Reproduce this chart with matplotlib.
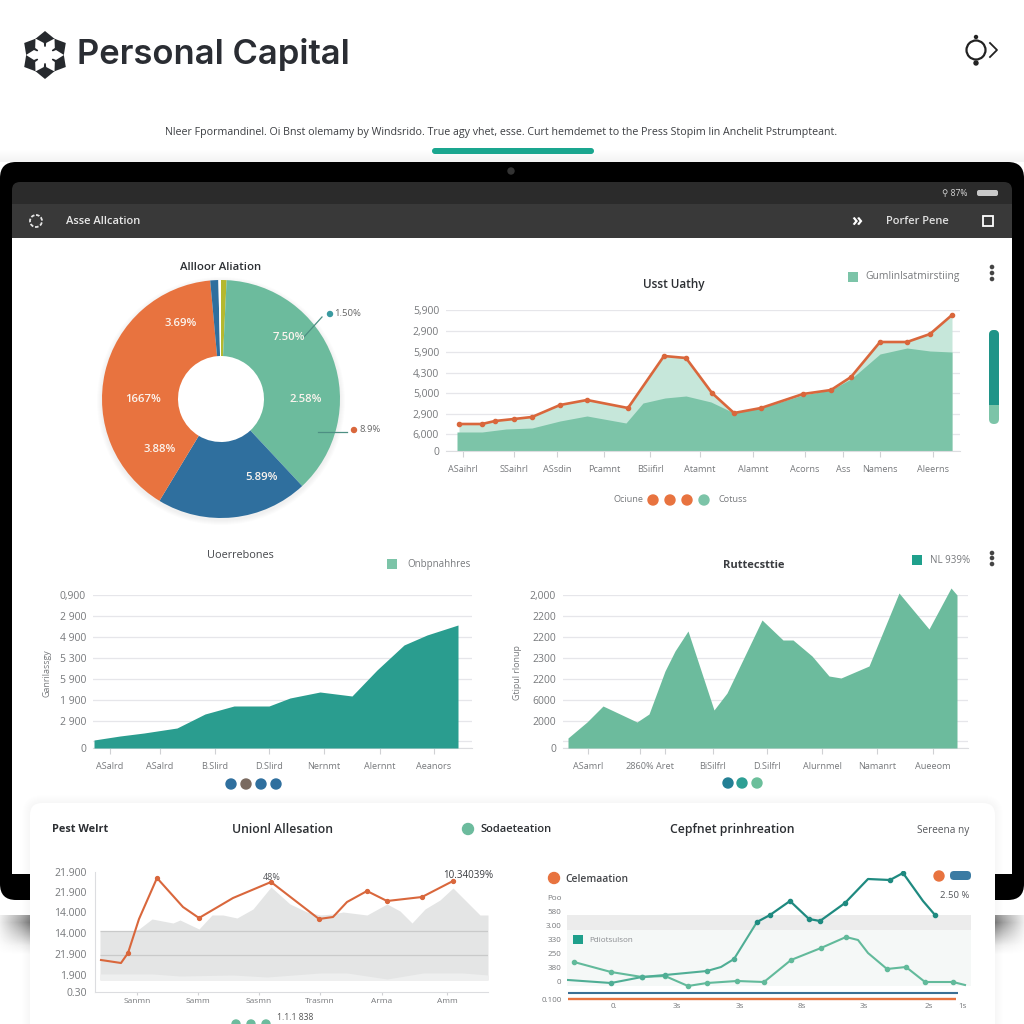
"""Personal Capital style dashboard mockup, rebuilt with matplotlib."""

import matplotlib

matplotlib.use("Agg")
import matplotlib.pyplot as plt
import numpy as np
from matplotlib.patches import Circle, FancyBboxPatch, Polygon, Rectangle

plt.rcParams["font.family"] = ["Open Sans", "DejaVu Sans"]

SIZE = 1024

# colours
GREEN = "#6cbb9d"
GREEN_DARK = "#7cc4a8"
GREEN_LIGHT = "#c6e7da"
TEAL = "#2a9d8f"
TEAL_DARK = "#1f8a80"
BLUE = "#2f6f9e"
ORANGE = "#e8733f"
LINE_ORANGE = "#d9673c"
GRID = "#e6e6ea"
TICK_TEXT = "#77797c"
DARK_TEXT = "#2c2f33"

# donut
PIE_VALUES = [0.75, 37.3, 20.6, 39.9, 1.1, 0.35]
PIE_COLORS = ["#b5b82e", GREEN, BLUE, ORANGE, BLUE, "#ffffff"]

# top right chart
USAGE_LINE_X = [13, 36, 49, 68, 86, 114, 141, 182, 218, 240, 266, 288, 315, 357, 385, 405, 434, 461, 484, 506]
USAGE_LINE_Y = [27, 27, 30, 32, 34, 46, 51, 43, 95, 93, 58, 38, 43, 57, 61, 74, 109, 109, 117, 136]
USAGE_AREA_X = [11, 36, 60, 86, 114, 141, 180, 197, 219, 240, 265, 288, 315, 357, 385, 405, 434, 461, 484, 506]
USAGE_AREA_Y = [19, 19, 22, 23, 30, 35, 28, 48, 53, 55, 49, 38, 43, 56, 61, 72, 97, 103, 100, 99]
USAGE_YTICKS = [0, 17, 37, 58, 78, 99, 120, 141]
USAGE_YLABELS = ["0", "6,000", "2,900", "5,000", "4,300", "5,900", "2,900", "5,900"]
USAGE_XTICKS = [17, 68, 111, 158, 204, 254, 307, 359, 397, 434, 487]
USAGE_XLABELS = ["ASaihrl", "SSaihrl", "ASsdin", "Pcamnt", "BSiifirl", "Atamnt", "Alamnt", "Acorns", "Ass", "Namens", "Aleerns"]

# middle left chart
USERS_X = [1, 27, 51, 84, 112, 141, 176, 197, 227, 259, 284, 311, 334, 365]
USERS_Y = [8, 12, 15, 20, 34, 42, 42, 50, 56, 52, 78, 103, 113, 123]
USERS_XTICKS = [17, 67, 122, 176, 231, 287, 341]
USERS_XLABELS = ["ASalrd", "ASalrd", "B.Slird", "D.Slird", "Nernmt", "Alernnt", "Aeanors"]
USERS_YTICKS = [0, 7, 27, 48, 69, 90, 111, 132, 153]
USERS_YLABELS = ["0", "", "2 900", "1 900", "5 900", "5 300", "4 900", "2 900", "0,900"]

# middle right chart
RATE_X = [5, 24, 40, 74, 86, 102, 112, 125, 151, 164, 199, 220, 230, 249, 266, 278, 306, 336, 366, 388, 394]
RATE_Y = [10, 26, 42, 26, 34, 77, 97, 117, 38, 55, 128, 108, 108, 92, 72, 70, 82, 155, 119, 160, 153]
RATE_XTICKS = [25, 77, 102, 150, 204, 259, 314, 370]
RATE_XLABELS = ["ASamrl", "2860%", "Aret", "BiSilfrl", "D.Silfrl", "Alurnmel", "Namanrt", "Aueeom"]
RATE_YLABELS = ["0", "", "2000", "6000", "2200", "2300", "2200", "2200", "2,000"]

# bottom left chart
UNION_LINE_X = [6, 26, 33, 44, 62, 88, 104, 138, 176, 224, 238, 252, 272, 292, 327, 358]
UNION_LINE_Y = [32, 29, 39, 73, 114, 85, 74, 94, 110, 73, 75, 90, 101, 91, 95, 111]
UNION_AREA_X = [5, 38, 44, 57, 78, 85, 104, 117, 128, 142, 158, 176, 195, 212, 225, 238, 248, 272, 292, 305, 317, 330, 345, 358, 385, 393]
UNION_AREA_Y = [61, 61, 63, 73, 69, 72, 63, 77, 77, 74, 83, 105, 88, 80, 77, 78, 80, 77, 88, 81, 69, 83, 92, 104, 77, 77]
UNION_BAND_X = [5, 58, 85, 138, 172, 225, 252, 292, 328, 368, 393]
UNION_BAND_Y = [18, 18, 16, 17, 15, 19, 19, 13, 19, 19, 17]
UNION_YTICKS = [0, 17, 38, 59, 80, 100, 120]
UNION_YLABELS = ["0.30", "1.900", "21.900", "14.000", "14.000", "21.900", "21.900"]
UNION_XTICKS = [42, 103, 164, 225, 287, 352]
UNION_XLABELS = ["Sanmn", "Samm", "Sasmn", "Trasmn", "Arma", "Amm"]

# bottom right chart
PREP_A_X = [7, 44, 75, 98, 121, 140, 170, 197, 224, 254, 279, 291, 301, 320, 339, 358, 386, 398]
PREP_A_Y = [41, 31, 26, 27, 17, 20, 22, 21, 43, 55, 66, 63, 50, 34, 36, 21, 21, 18]
PREP_B_X = [1, 44, 75, 98, 140, 154, 167, 190]
PREP_B_Y = [23, 20, 26, 28, 32, 36, 44, 81]
PREP_C_X = [190, 203, 223, 242, 253, 278, 301, 323, 336, 356, 368]
PREP_C_Y = [81, 88, 102, 84, 82, 100, 124, 123, 130, 102, 88]
PREP_YTICKS = [4, 21, 36, 49, 63, 77, 91, 106]
PREP_YLABELS = ["0.100", "0", "380", "250", "330", "3.00", "580", "Poo"]
PREP_XTICKS = [47, 110, 173, 235, 297, 362, 396]
PREP_XLABELS = ["0.", "3s", "3s", "8s", "3s", "2s", "1s"]


def px_axes(fig, left, top, right, bottom, zorder=2):
    """Add a transparent axes given its box in image pixels."""
    ax = fig.add_axes(
        [left / SIZE, 1 - bottom / SIZE, (right - left) / SIZE, (bottom - top) / SIZE],
        zorder=zorder,
    )
    ax.patch.set_alpha(0)
    return ax


def rounded(ax, x, y, w, h, radius, color, **kwargs):
    patch = FancyBboxPatch(
        (x, y), w, h,
        boxstyle=f"round,pad=0,rounding_size={radius}",
        facecolor=color, edgecolor="none", **kwargs,
    )
    ax.add_patch(patch)
    return patch


def style_chart(ax, xticks, xlabels, yticks, ylabels, grid=True):
    for name in ("top", "right", "left"):
        ax.spines[name].set_visible(False)
    ax.spines["bottom"].set_color("#dcdde0")
    ax.set_xticks(xticks, xlabels)
    ax.set_yticks(yticks, ylabels)
    ax.tick_params(axis="x", length=4, width=0.8, color="#d0d1d4", labelsize=6.6,
                   labelcolor=TICK_TEXT, pad=6)
    ax.tick_params(axis="y", length=0, labelsize=7.5, labelcolor=TICK_TEXT, pad=5)
    if grid:
        ax.yaxis.grid(True, color=GRID, linewidth=0.9)
    ax.set_axisbelow(True)


def draw_background(ax):
    ax.set_xlim(0, SIZE)
    ax.set_ylim(SIZE, 0)
    ax.axis("off")

    # shadow under the tablet, darkest next to the card and fading outwards
    fade_y = np.interp(np.arange(915, 955), [915, 922, 945, 954], [0.85, 1, 0.15, 0])
    fade_x = np.interp(np.arange(SIZE), [0, 30, 995, 1023], [0.15, 1, 1, 0.15])
    shadow = 1 - 0.5 * np.outer(fade_y, fade_x)
    ax.imshow(shadow, cmap="gray", vmin=0, vmax=1, aspect="auto",
              extent=(0, SIZE, 955, 915), zorder=0)
    top_shade = np.interp(np.arange(0, 14), [0, 13], [1, .95])
    ax.imshow(top_shade[:, None], cmap="gray", vmin=0, vmax=1, aspect="auto",
              extent=(0, SIZE, 162, 148), zorder=0)

    # tablet frame and screen
    rounded(ax, 0, 162, 1024, 738, 16, "#000000", zorder=1)
    ax.add_patch(Circle((511, 171), 3, color="#333333", zorder=2))
    rounded(ax, 12, 182, 1000, 60, 8, "#2b2b2b", zorder=2)
    ax.add_patch(Rectangle((12, 204), 1000, 34, facecolor="#393939", linewidth=0, zorder=2))
    ax.add_patch(Rectangle((12, 238), 1000, 636, facecolor="#ffffff", linewidth=0, zorder=2))

    # card at the bottom with a faint layered shadow
    for grow in range(8, 0, -1):
        rounded(ax, 30 - grow, 803 - grow, 965 + 2 * grow, 260, 12 + grow, "#000000",
                alpha=0.005, zorder=3)
    rounded(ax, 30, 803, 965, 260, 12, "#ffffff", zorder=3)

    # soft shadow under the donut, hole stays white
    for grow in range(5, 0, -1):
        ax.add_patch(Circle((221, 401), 119 + grow, facecolor="#000000", linewidth=0,
                            alpha=0.012, zorder=3))
    ax.add_patch(Circle((221, 399), 60, facecolor="#ffffff", linewidth=0, zorder=3))

    ax.set_xlim(0, SIZE)
    ax.set_ylim(SIZE, 0)


def draw_header(ax):
    # logo: six dark blobs cut by a white flower
    cx, cy = 45, 55
    centre = np.array([cx, cy])
    for angle in np.radians([90, 30, -30, -90, -150, 150]):
        u = np.array([np.cos(angle), -np.sin(angle)])
        v = np.array([-u[1], u[0]])
        pts = [centre + u * 8, centre + u * 15 + v * 11, centre + u * 24, centre + u * 15 - v * 11]
        ax.add_patch(Polygon(pts, closed=True, facecolor="#26292d", linewidth=0))
    for angle in np.radians([0, 60, 120, 180, 240, 300]):
        u = np.array([np.cos(angle), -np.sin(angle)])
        v = np.array([-u[1], u[0]])
        pts = [centre, centre + u * 11 + v * 5, centre + u * 19, centre + u * 11 - v * 5]
        ax.add_patch(Polygon(pts, closed=True, facecolor="#ffffff", linewidth=0))
    ax.add_patch(Circle((cx, cy), 7, facecolor="#ffffff", linewidth=0))

    ax.text(77, 54.5, "Personal Capital", fontsize=24.9, fontweight="semibold", family="Inter",
            color="#2a2d33", va="center", ha="left")

    # top right icon
    ax.add_patch(Circle((976, 50), 9.5, fill=False, edgecolor="#222222", linewidth=1.6))
    ax.add_patch(Circle((976, 37), 1.5, color="#222222"))
    ax.add_patch(Circle((976, 63), 2, color="#222222"))
    ax.plot([990, 997, 990], [43, 50, 57], color="#222222", linewidth=1.3)

    ax.text(501, 132.5,
            "Nleer Fpormandinel. Oi Bnst olemamy by Windsrido. True agy vhet, esse. "
            "Curt hemdemet to the Press Stopim lin Anchelit Pstrumpteant.",
            fontsize=7.65, color="#3c3e42", ha="center", va="center")
    rounded(ax, 432, 148, 162, 6, 3, "#1aa68f")

    # screen status bar and nav bar
    ax.text(955, 193.5, "⚲ 87%", fontsize=6.2, color="#d8d8d8", ha="center", va="center")
    rounded(ax, 977, 190, 21, 6, 2, "#c8c8c8")
    ax.add_patch(Circle((36, 221), 6, fill=False, edgecolor="#e5e5e5", linewidth=1.3, linestyle=(0, (2, 1))))
    ax.text(66, 222, "Asse Allcation", fontsize=8, fontweight="semibold", color="#e8e8e8", va="center")
    ax.text(857, 221, "»", fontsize=13, fontweight="bold", color="#ffffff", ha="center", va="center")
    ax.text(886, 222, "Porfer Pene", fontsize=8, fontweight="semibold", color="#e0e0e0", va="center")
    ax.add_patch(Rectangle((983, 216), 10, 10, fill=False, edgecolor="#ffffff", linewidth=1.3))


def draw_pie(fig):
    ax = px_axes(fig, 102, 280, 340, 518)
    ax.pie(PIE_VALUES, colors=PIE_COLORS, startangle=90, counterclock=False, radius=1,
           wedgeprops={"width": 1 - 43 / 119, "linewidth": 0})
    ax.set_xlim(-1, 1)
    ax.set_ylim(-1, 1)


def draw_pie_text(ax):
    ax.text(221, 267, "Allloor Aliation", fontsize=8.2, fontweight="semibold", color=DARK_TEXT,
            ha="center", va="center")
    labels = [("7.50%", 289, 338), ("2.58%", 306, 400), ("5.89%", 262, 478),
              ("3.88%", 160, 449), ("1667%", 143, 400), ("3.69%", 181, 324)]
    for text, x, y in labels:
        ax.text(x, y, text, color="#fbf4ee", fontsize=8.2, fontweight="semibold", ha="center", va="center")
    ax.plot([322, 303], [317, 338], color="#4d8f83", linewidth=0.9)
    ax.add_patch(Circle((330, 314), 2.5, color="#3a9aa0"))
    ax.text(334, 314, "1.50%", fontsize=6.8, color="#666666", va="center")
    ax.plot([318, 347], [432, 432], color="#4d8f83", linewidth=0.9)
    ax.add_patch(Circle((354, 430), 2.5, color=LINE_ORANGE))
    ax.text(359, 430, "8.9%", fontsize=6.8, color="#666666", va="center")


def draw_usage(fig):
    ax = px_axes(fig, 446, 310, 960, 451)
    ax.fill_between(USAGE_LINE_X, USAGE_LINE_Y, color=GREEN_LIGHT, linewidth=0)
    ax.fill_between(USAGE_AREA_X, USAGE_AREA_Y, color=GREEN_DARK, linewidth=0)
    ax.plot(USAGE_LINE_X, USAGE_LINE_Y, color=LINE_ORANGE, linewidth=1.9, marker="o", markersize=3)
    ax.set_xlim(0, 514)
    ax.set_ylim(0, 141)
    style_chart(ax, USAGE_XTICKS, USAGE_XLABELS, USAGE_YTICKS, USAGE_YLABELS)


def draw_usage_text(ax):
    ax.text(674, 284.5, "Usst Uathy", fontsize=8.5, fontweight="semibold", color=DARK_TEXT,
            ha="center", va="center")
    ax.add_patch(Rectangle((848, 272), 10, 10, facecolor=GREEN_DARK, linewidth=0))
    ax.text(865, 277, "Gumlinlsatmirstiing", fontsize=7.4, color=TICK_TEXT, va="center")
    for y in (267, 273, 279):
        ax.add_patch(Circle((992, y), 1.6, color="#444444"))
    rounded(ax, 989, 330, 10, 94, 5, GREEN_DARK)
    rounded(ax, 989, 330, 10, 60, 5, "#1f9488")
    ax.add_patch(Rectangle((989, 385), 10, 20, facecolor="#1f9488", linewidth=0))
    ax.text(628, 500, "Ociune", fontsize=6.6, color=TICK_TEXT, ha="center", va="center")
    for x, color in zip((653, 670, 687, 704), (ORANGE, ORANGE, ORANGE, GREEN_DARK)):
        ax.add_patch(Circle((x, 500), 5, color=color))
    ax.text(733, 500, "Cotuss", fontsize=6.6, color=TICK_TEXT, ha="center", va="center")


def draw_users(fig):
    ax = px_axes(fig, 93, 595, 472, 748)
    ax.fill_between(USERS_X, USERS_Y, color=TEAL, linewidth=0, zorder=3)
    ax.set_xlim(0, 379)
    ax.set_ylim(0, 153)
    style_chart(ax, USERS_XTICKS, USERS_XLABELS, USERS_YTICKS, USERS_YLABELS)


def draw_rate(fig):
    ax = px_axes(fig, 563, 595, 968, 748)
    ax.fill_between(RATE_X, RATE_Y, color=GREEN, linewidth=0, zorder=3, clip_on=False)
    ax.set_xlim(0, 405)
    ax.set_ylim(0, 153)
    style_chart(ax, RATE_XTICKS, RATE_XLABELS, USERS_YTICKS, RATE_YLABELS)


def draw_middle_text(ax):
    ax.text(240, 555.5, "Uoerrebones", fontsize=7.8, fontweight="medium", color="#45474b",
            ha="center", va="center")
    ax.add_patch(Rectangle((387, 559), 10, 10, facecolor=GREEN_DARK, linewidth=0))
    ax.text(407, 564.5, "Onbpnahhres", fontsize=7, color=TICK_TEXT, va="center")
    ax.text(47, 673, "Ganrilassgy", fontsize=6.4, color=TICK_TEXT, rotation=90, ha="center", va="center")
    for x, color in zip((231, 246, 261, 276), (BLUE, "#7a6a60", BLUE, BLUE)):
        ax.add_patch(Circle((x, 784), 5, color=color))

    ax.text(754, 566, "Ruttecsttie", fontsize=8, fontweight="bold", color="#3a3c40", ha="center", va="center")
    ax.add_patch(Rectangle((912, 555), 10, 10, facecolor="#1fa08c", linewidth=0))
    ax.text(930, 560.5, "NL 939%", fontsize=7, color=TICK_TEXT, va="center")
    for y in (553, 558, 564):
        ax.add_patch(Circle((992, y), 1.6, color="#444444"))
    ax.text(517, 673, "Gtipul rlonup", fontsize=6.4, color=TICK_TEXT, rotation=90, ha="center", va="center")
    for x, color in zip((728, 742, 757), ("#237f94", "#2d9f94", "#6bbf9b")):
        ax.add_patch(Circle((x, 783), 5, color=color))


def draw_union(fig):
    ax = px_axes(fig, 95, 872, 488, 992)
    ax.fill_between(UNION_AREA_X, UNION_AREA_Y, 12, color="#e4e5e5", linewidth=0)
    ax.fill_between(UNION_BAND_X, UNION_BAND_Y, 12, color="#eeefef", linewidth=0)
    ax.hlines([37, 61], 5, 393, color="#c9caca", linewidth=0.9)
    ax.plot(UNION_LINE_X, UNION_LINE_Y, color=LINE_ORANGE, linewidth=1.5, marker="o", markersize=2.8,
            markevery=[2, 4, 6, 8, 9, 12, 13, 14, 15])
    ax.set_xlim(0, 393)
    ax.set_ylim(0, 120)
    style_chart(ax, UNION_XTICKS, UNION_XLABELS, UNION_YTICKS, UNION_YLABELS, grid=False)
    ax.spines["left"].set_visible(True)
    ax.spines["left"].set_color("#dcdde0")
    ax.tick_params(axis="x", labelsize=6, pad=2, length=2)
    ax.tick_params(axis="y", labelsize=7.5, pad=6)


def draw_prep(fig):
    ax = px_axes(fig, 567, 871, 971, 1003)
    ax.axhspan(17, 73, color="#f5f8f7", linewidth=0)
    ax.axhspan(73, 88, color="#ececec", linewidth=0)
    ax.plot(PREP_A_X, PREP_A_Y, color="#62ba9b", linewidth=1.5, marker="o", markersize=3,
            markevery=[0, 1, 2, 3, 4, 5, 6, 7, 8, 9, 10, 13, 14, 15, 16])
    ax.plot(PREP_B_X, PREP_B_Y, color="#4fae95", linewidth=1.5, marker="o", markersize=3,
            markevery=[1, 2, 3, 4, 6])
    ax.plot(PREP_C_X, PREP_C_Y, color=TEAL_DARK, linewidth=1.6, marker="o", markersize=3,
            markevery=[0, 1, 2, 3, 4, 5, 7, 8, 10])
    ax.hlines(10, 1, 391, color="#3b6f94", linewidth=1.5)
    ax.hlines(4, 1, 389, color=ORANGE, linewidth=1.7)
    ax.set_xlim(0, 404)
    ax.set_ylim(0, 132)
    ax.set_xticks(PREP_XTICKS, PREP_XLABELS)
    ax.set_yticks(PREP_YTICKS, PREP_YLABELS)
    ax.tick_params(axis="both", length=0, labelsize=5.8, labelcolor=TICK_TEXT)
    ax.tick_params(axis="x", pad=0)
    ax.tick_params(axis="y", pad=4)
    for spine in ax.spines.values():
        spine.set_visible(False)


def draw_card_text(ax):
    ax.text(80, 829.5, "Pest Welrt", fontsize=7.8, fontweight="bold", color=DARK_TEXT, ha="center", va="center")
    ax.text(282, 829.5, "Unionl Allesation", fontsize=8.8, fontweight="semibold", color=DARK_TEXT, ha="center", va="center")
    ax.add_patch(Circle((468, 829), 5.5, color=GREEN))
    ax.text(480, 829.5, "Sodaeteation", fontsize=8, fontweight="semibold", color=DARK_TEXT, va="center")
    ax.text(732, 829.5, "Cepfnet prinhreation", fontsize=8.8, fontweight="semibold", color=DARK_TEXT, ha="center", va="center")
    ax.text(943, 830, "Sereena ny", fontsize=7.2, color="#55575b", ha="center", va="center")

    ax.text(272, 878, "48%", fontsize=6.4, color="#55575b", ha="center", va="center")
    ax.text(468, 876, "10.34039%", fontsize=7, color="#3a3c40", ha="center", va="center")
    for x in (236, 251, 266):
        ax.add_patch(Circle((x, 1024), 4, color=GREEN))
    # the reference crops this label at the image edge, keep it just inside
    ax.text(295, 1017, "1.1.1 838", fontsize=6.2, color="#555555", ha="center", va="center")

    ax.add_patch(Circle((554, 878), 5.5, color=ORANGE))
    ax.text(565, 879, "Celemaation", fontsize=7.4, fontweight="semibold", color="#44464a", va="center")
    ax.add_patch(Circle((939, 876), 5, color=ORANGE))
    rounded(ax, 950, 871, 21, 9, 4, "#3b7ba3")
    ax.text(955, 896, "2.50 %", fontsize=6.8, color="#55575b", ha="center", va="center")
    ax.add_patch(Rectangle((573, 935), 10, 9, facecolor="#1fa08c", linewidth=0))
    ax.text(589, 940.5, "Pdiotsulson", fontsize=5.8, color="#8a8c90", va="center")


def main():
    fig = plt.figure(figsize=(SIZE / 100, SIZE / 100), dpi=100, facecolor="white")

    background = fig.add_axes([0, 0, 1, 1], zorder=0)
    draw_background(background)

    draw_pie(fig)
    draw_usage(fig)
    draw_users(fig)
    draw_rate(fig)
    draw_union(fig)
    draw_prep(fig)

    overlay = fig.add_axes([0, 0, 1, 1], zorder=10)
    overlay.set_xlim(0, SIZE)
    overlay.set_ylim(SIZE, 0)
    overlay.axis("off")
    overlay.patch.set_alpha(0)
    draw_header(overlay)
    draw_pie_text(overlay)
    draw_usage_text(overlay)
    draw_middle_text(overlay)
    draw_card_text(overlay)
    overlay.set_xlim(0, SIZE)
    overlay.set_ylim(SIZE, 0)

    fig.savefig("out.png", dpi=100)
    plt.close(fig)


if __name__ == "__main__":
    main()
